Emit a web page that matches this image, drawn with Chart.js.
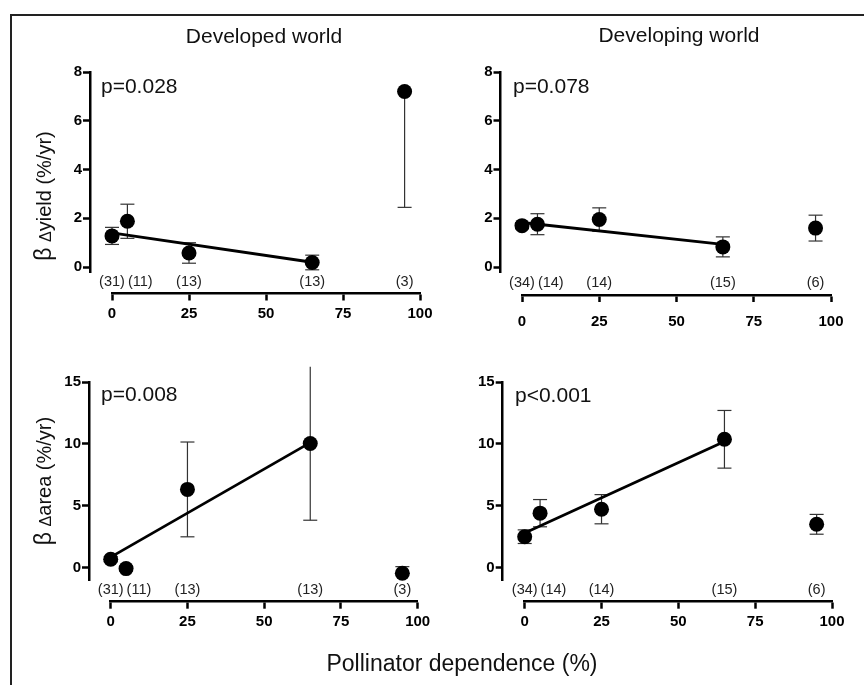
<!DOCTYPE html>
<html>
<head>
<meta charset="utf-8">
<script src="https://cdn.jsdelivr.net/npm/chart.js@4.4.1/dist/chart.umd.min.js"></script>
<style>
  html, body { margin:0; padding:0; background:#fff; }
  body { width:864px; height:685px; position:relative; overflow:hidden; font-family:'Liberation Sans', Arial, Helvetica, sans-serif; color:#111; }
  #frame { position:absolute; left:9.5px; top:14px; width:1000px; height:1000px; border-top:2.5px solid #222; border-left:2.5px solid #222; }
  canvas { position:absolute; }
  .t { position:absolute; white-space:nowrap; line-height:1; }
  .ytitle { position:absolute; white-space:nowrap; line-height:1; font-size:20px; transform:translate(-50%,-50%) rotate(-90deg); }
</style>
</head>
<body>
<div id="frame"></div>
<canvas id="c0" width="432" height="340" style="left:0;top:0"></canvas>
<canvas id="c1" width="432" height="340" style="left:432px;top:0"></canvas>
<canvas id="c2" width="432" height="340" style="left:0;top:340px"></canvas>
<canvas id="c3" width="432" height="340" style="left:432px;top:340px"></canvas>

<div class="t" style="font-size:21px;left:264px;top:24.5px;transform:translateX(-50%)">Developed world</div>
<div class="t" style="font-size:21px;left:679px;top:24px;transform:translateX(-50%)">Developing world</div>
<div class="t" style="font-size:21px;left:101px;top:75px">p=0.028</div>
<div class="t" style="font-size:21px;left:513px;top:74.5px">p=0.078</div>
<div class="t" style="font-size:21px;left:101px;top:383px">p=0.008</div>
<div class="t" style="font-size:21px;left:515px;top:384px">p&lt;0.001</div>
<div class="ytitle" style="left:43px;top:196px"><span style="font-size:23px">β</span> <span style="font-size:16px">Δ</span>yield (%/yr)</div>
<div class="ytitle" style="left:43px;top:481px"><span style="font-size:23px">β</span> <span style="font-size:16px">Δ</span>area (%/yr)</div>
<div class="t" style="font-size:23px;left:462px;top:652px;transform:translateX(-50%)">Pollinator dependence (%)</div>

<script>
// ---------------- data ----------------
const dependence = [0, 5, 25, 65, 95];
const xTicks = [0, 25, 50, 75, 100];
const yieldTicks = [0, 2, 4, 6, 8];
const areaTicks = [0, 5, 10, 15];

const devCounts = ['(31)', '(11)', '(13)', '(13)', '(3)'];
const dvgCounts = ['(34)', '(14)', '(14)', '(15)', '(6)'];

// Developed world, yield
const devYield   = [1.28, 1.88, 0.58, 0.19, 7.20];
const devYieldLo = [0.35, 0.70, 0.42, 0.30, 4.75];
const devYieldHi = [0.35, 0.70, 0.42, 0.30, 0.00];
// Developing world, yield
const dvgYield   = [1.70, 1.76, 1.95, 0.83, 1.60];
const dvgYieldLo = [0.12, 0.43, 0.48, 0.41, 0.53];
const dvgYieldHi = [0.12, 0.43, 0.48, 0.41, 0.53];
// Developed world, area
const devArea   = [0.68, -0.08, 6.32, 10.03, -0.45];
const devAreaLo = [0.20, 0.20, 3.83, 6.20, 0.00];
const devAreaHi = [0.20, 0.20, 3.83, 6.20, 0.53];
// Developing world, area
const dvgArea   = [2.50, 4.40, 4.72, 10.37, 3.50];
const dvgAreaLo = [0.55, 1.10, 1.18, 2.33, 0.80];
const dvgAreaHi = [0.55, 1.10, 1.18, 2.33, 0.80];

// regression lines (fitted over 0-65 %)
const fitX = [0, 65];
const devYieldFit = [1.40, 0.20];
const dvgYieldFit = [1.83, 0.93];
const devAreaFit  = [0.85, 10.10];
const dvgAreaFit  = [2.80, 10.20];

// ---------------- helpers ----------------
Chart.defaults.font.family = "'Liberation Sans', Arial, Helvetica, sans-serif";

// Prism-style detached axes: move the y axis left and the x axis down after layout
const prismAxes = {
  id: 'prismAxes',
  afterLayout(chart, args, opts) {
    const x = chart.scales.x, y = chart.scales.y;
    const wy = y.right - y.left; y.right = opts.yAxisAt; y.left = y.right - wy;
    const hx = x.bottom - x.top; x.top = opts.xAxisAt; x.bottom = x.top + hx;
  }
};

// sample size labels just above the x axis
const countLabels = {
  id: 'countLabels',
  afterDatasetsDraw(chart, args, opts) {
    const ctx = chart.ctx, xs = chart.scales.x;
    ctx.save();
    ctx.font = '14.5px ' + Chart.defaults.font.family;
    ctx.fillStyle = '#222';
    ctx.textAlign = 'center';
    ctx.textBaseline = 'middle';
    let prevRight = -Infinity;
    dependence.forEach((v, i) => {
      const t = opts.labels[i];
      const w = ctx.measureText(t).width;
      let cx = xs.getPixelForValue(v);
      if (cx - w / 2 < prevRight + 3) cx = prevRight + 3 + w / 2;
      ctx.fillText(t, cx, xs.top - opts.offset);
      prevRight = cx + w / 2;
    });
    ctx.restore();
  }
};

function buildDatasets(vals, lo, hi, fit) {
  const sets = [];
  dependence.forEach((x, i) => {
    sets.push({
      type: 'line',
      data: [{x: x, y: vals[i] - lo[i]}, {x: x, y: vals[i] + hi[i]}],
      borderColor: '#333', borderWidth: 1.2,
      pointStyle: 'line', pointRadius: 7, pointBorderWidth: 1.2,
      pointBorderColor: '#333', pointBackgroundColor: '#333',
      showLine: true, clip: false, order: 2
    });
  });
  sets.push({
    type: 'line',
    data: fitX.map((x, i) => ({x: x, y: fit[i]})),
    borderColor: '#000', borderWidth: 2.8, pointRadius: 0,
    showLine: true, clip: false, order: 1
  });
  sets.push({
    type: 'scatter',
    data: dependence.map((x, i) => ({x: x, y: vals[i]})),
    backgroundColor: '#000', borderColor: '#000',
    pointRadius: 7.5, pointBorderWidth: 0, clip: false, order: 0
  });
  return sets;
}

const WY = 40, HX = 40, CW = 432, CH = 340;

function makePanel(id, p) {
  const tickFont = {size: 15, weight: 'bold'};
  const gridOpts = {display: true, drawOnChartArea: false, drawTicks: true, tickLength: 7, tickWidth: 2.5, tickColor: '#000'};
  new Chart(document.getElementById(id), {
    type: 'scatter',
    data: {datasets: buildDatasets(p.vals, p.lo, p.hi, p.fit)},
    plugins: [prismAxes, countLabels],
    options: {
      responsive: false, animation: false, events: [],
      layout: {autoPadding: false, padding: {left: p.L - WY, right: CW - p.R, top: p.T, bottom: CH - p.B - HX}},
      plugins: {
        legend: {display: false}, tooltip: {enabled: false}, title: {display: false},
        prismAxes: {yAxisAt: p.yAxisAt, xAxisAt: p.xAxisAt},
        countLabels: {labels: p.counts, offset: 12}
      },
      scales: {
        x: {
          type: 'linear', min: 0, max: 100,
          afterBuildTicks: s => { s.ticks = xTicks.map(v => ({value: v})); },
          afterFit: s => { s.height = HX; s.paddingLeft = 0; s.paddingRight = 0; },
          ticks: {font: tickFont, color: '#000', padding: p.xPad, maxRotation: 0, autoSkip: false},
          grid: gridOpts,
          border: {display: true, width: 2.5, color: '#000'}
        },
        y: {
          type: 'linear', min: p.ymin, max: p.ymax,
          afterBuildTicks: s => { s.ticks = p.yTicks.map(v => ({value: v})); },
          afterFit: s => { s.width = WY; s.paddingTop = 0; s.paddingBottom = 0; },
          ticks: {font: tickFont, color: '#000', padding: 1, autoSkip: false},
          grid: gridOpts,
          border: {display: true, width: 2.5, color: '#000'}
        }
      }
    }
  });
}

makePanel('c0', {vals: devYield, lo: devYieldLo, hi: devYieldHi, fit: devYieldFit, counts: devCounts,
  yTicks: yieldTicks, ymin: -0.2, ymax: 8, L: 112, R: 420, T: 72, B: 272, yAxisAt: 90, xAxisAt: 293.5, xPad: 4});
makePanel('c1', {vals: dvgYield, lo: dvgYieldLo, hi: dvgYieldHi, fit: dvgYieldFit, counts: dvgCounts,
  yTicks: yieldTicks, ymin: -0.2, ymax: 8, L: 90, R: 399, T: 72, B: 272, yAxisAt: 68.5, xAxisAt: 295, xPad: 11});
makePanel('c2', {vals: devArea, lo: devAreaLo, hi: devAreaHi, fit: devAreaFit, counts: devCounts,
  yTicks: areaTicks, ymin: -1, ymax: 15, L: 110.7, R: 417.7, T: 42, B: 240, yAxisAt: 89, xAxisAt: 261.7, xPad: 4});
makePanel('c3', {vals: dvgArea, lo: dvgAreaLo, hi: dvgAreaHi, fit: dvgAreaFit, counts: dvgCounts,
  yTicks: areaTicks, ymin: -1, ymax: 15, L: 92.7, R: 400, T: 42, B: 240, yAxisAt: 70.7, xAxisAt: 261.7, xPad: 4});
</script>
</body>
</html>
